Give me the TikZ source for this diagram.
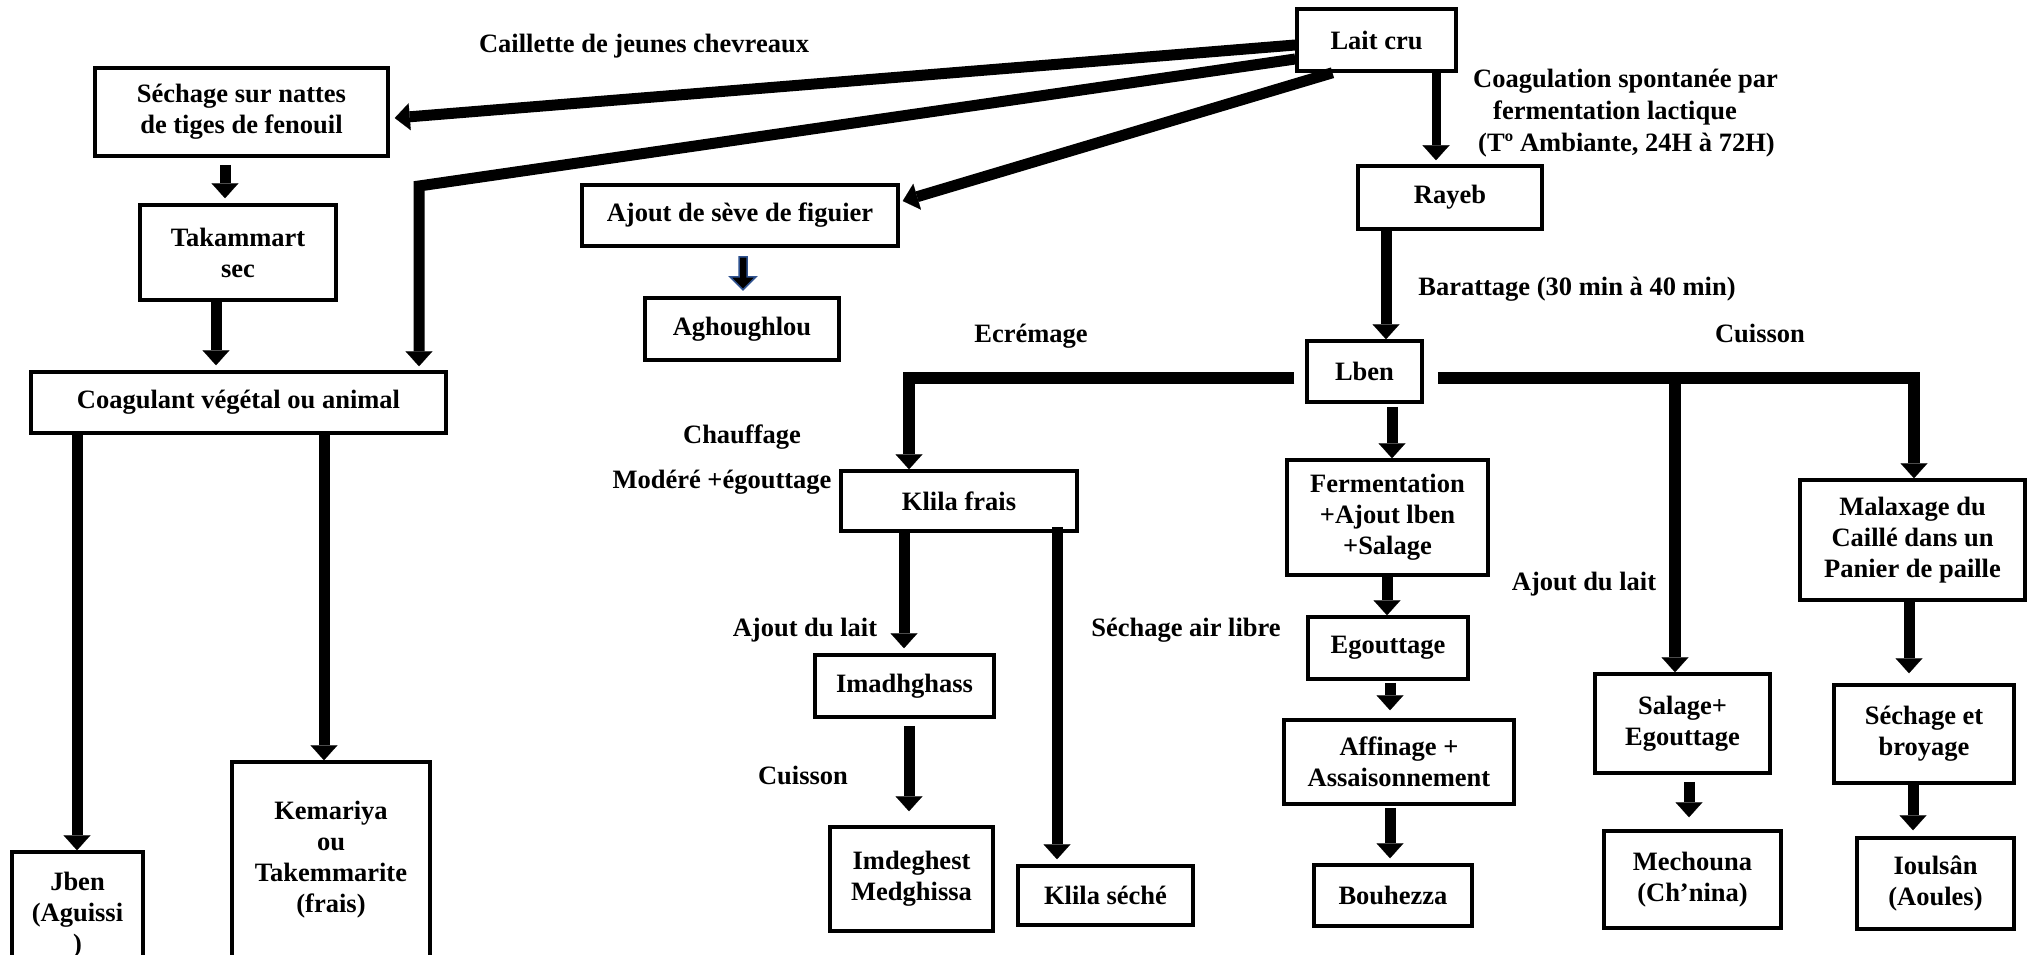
\documentclass[tikz,border=0pt]{standalone}
\usepackage{fontspec}
\setmainfont{Liberation Serif}
\usetikzlibrary{arrows.meta,calc}
\definecolor{agblue}{RGB}{47,82,143}
\newcommand\dfont{\fontsize{26.5}{31}\selectfont\bfseries}
\begin{document}
\begin{tikzpicture}[x=1pt,y=-1pt,
  box/.style={draw, line width=3.5pt, inner sep=0pt, align=center, font=\dfont},
  lab/.style={inner sep=0pt, font=\dfont, anchor=base},
  arr/.style={line width=11pt, line join=miter, -{Triangle[width=27pt,length=15pt,line width=0.1pt]}}]
\useasboundingbox (0,0) rectangle (2029,955);
\fill[white] (0,0) rectangle (2029,955);

% boxes
\node[box, minimum width=159pt, minimum height=62pt] (lait) at (1376.5,40) {Lait cru};
\node[box, minimum width=293pt, minimum height=88pt] (sechage) at (241.5,112) {Séchage sur nattes\\de tiges de fenouil};
\node[box, minimum width=196pt, minimum height=95pt] (takam) at (238,252.5) {Takammart\\sec};
\node[box, minimum width=415pt, minimum height=61pt] (coag) at (238.5,402.5) {Coagulant végétal ou animal};
\node[box, minimum width=131pt, minimum height=126pt] (jben) at (77.5,915) {Jben\\(Aguissi\\)};
\node[box, minimum width=198pt, minimum height=196pt] (kemar) at (331,860) {Kemariya\\ou\\Takemmarite\\(frais)};
\node[box, minimum width=316pt, minimum height=61pt] (seve) at (740,215.5) {Ajout de sève de figuier};
\node[box, minimum width=194pt, minimum height=62pt] (aghou) at (742,329) {Aghoughlou};
\node[box, minimum width=184pt, minimum height=63pt] (rayeb) at (1450,197.5) {Rayeb};
\node[box, minimum width=115pt, minimum height=61pt] (lben) at (1364.5,371.5) {Lben};
\node[box, minimum width=236pt, minimum height=60pt] (klilaf) at (959,501) {Klila frais};
\node[box, minimum width=179pt, minimum height=62pt] (imadh) at (904.5,686) {Imadhghass};
\node[box, minimum width=163pt, minimum height=104pt] (imdeg) at (911.5,879) {Imdeghest\\Medghissa};
\node[box, minimum width=175pt, minimum height=59pt] (klilas) at (1105.5,895.5) {Klila séché};
\node[box, minimum width=201pt, minimum height=115pt] (ferm) at (1387.5,517.5) {Fermentation\\+Ajout lben\\+Salage};
\node[box, minimum width=160pt, minimum height=62pt] (egout) at (1388,648) {Egouttage};
\node[box, minimum width=230pt, minimum height=84pt] (affin) at (1399,762) {Affinage +\\Assaisonnement};
\node[box, minimum width=158pt, minimum height=61pt] (bouh) at (1393,895.5) {Bouhezza};
\node[box, minimum width=175pt, minimum height=99pt] (salage) at (1682.5,723.5) {Salage+\\Egouttage};
\node[box, minimum width=177pt, minimum height=97pt] (mechou) at (1692.5,879.5) {Mechouna\\(Ch’nina)};
\node[box, minimum width=225pt, minimum height=120pt] (malax) at (1912.5,540) {Malaxage du\\Caillé dans un\\Panier de paille};
\node[box, minimum width=180pt, minimum height=98pt] (sechbr) at (1924,734) {Séchage et\\broyage};
\node[box, minimum width=157pt, minimum height=91pt] (ioul) at (1935.5,883.5) {Ioulsân\\(Aoules)};

% labels
\node[lab] (l1) at (644,53) {Caillette de jeunes chevreaux};
\node[lab, anchor=base west] (l2) at (1473,88) {Coagulation spontanée par};
\node[lab, anchor=base west] (l3) at (1493,120) {fermentation lactique};
\node[lab, anchor=base west] (l4) at (1478,152) {(Tº Ambiante, 24H à 72H)};
\node[lab] (l5) at (1577,295) {Barattage (30 min à 40 min)};
\node[lab] (l6) at (1031,342) {Ecrémage};
\node[lab] (l7) at (1760,342) {Cuisson};
\node[lab] (l8) at (742,443) {Chauffage};
\node[lab] (l9) at (722,488) {Modéré +égouttage};
\node[lab] (l10) at (805,636) {Ajout du lait};
\node[lab] (l11) at (803,784) {Cuisson};
\node[lab] (l12) at (1186,636) {Séchage air libre};
\node[lab] (l13) at (1584,590) {Ajout du lait};

% connectors from Lait cru
\draw[arr] ([yshift=-5pt]lait.west) -- ([xshift=5pt,yshift=-6pt]sechage.east);
\coordinate (b1) at (419,186);
\draw[arr, shorten >=4pt] ([yshift=-19pt]lait.west) -- (b1) -- (b1 |- coag.north);
\draw[arr] ([xshift=-44pt]lait.south) -- ([xshift=3pt,yshift=14.5pt]seve.east);
\coordinate (c1) at (1436,0);
\draw[arr, line width=9pt, shorten >=4pt] (lait.south -| c1) -- (rayeb.north -| c1);
\coordinate (c2) at (1386,0);
\draw[arr] (rayeb.south -| c2) -- (lben.north -| c2);

% Lben branches
\coordinate (hl) at (909,378);
\coordinate (hr) at (1914,378);
\coordinate (hm) at (1675,378);
\draw[arr, line width=12pt] ([xshift=-11pt,yshift=-6.5pt]lben.west) -- (hl) -- (hl |- klilaf.north);
\draw[arr, line width=12pt] ([xshift=14pt,yshift=-6.5pt]lben.east) -- (hr) -- (hr |- malax.north);
\draw[arr, line width=12pt] (hm) -- (hm |- salage.north);
\coordinate (c3) at (1392,0);
\draw[arr, shorten <=3pt] (lben.south -| c3) -- (ferm.north -| c3);

% central column
\coordinate (c4) at (1387,0);
\draw[arr] (ferm.south -| c4) -- (egout.north -| c4);
\coordinate (c5) at (1390,0);
\draw[arr, shorten <=2pt, shorten >=8pt] (egout.south -| c5) -- (affin.north -| c5);
\draw[arr, shorten <=2pt, shorten >=5pt] (affin.south -| c5) -- (bouh.north -| c5);

% Klila column
\coordinate (c6) at (904,0);
\draw[arr, shorten >=5pt] (klilaf.south -| c6) -- (imadh.north -| c6);
\coordinate (c7) at (909,0);
\draw[arr, shorten <=7pt, shorten >=14pt] (imadh.south -| c7) -- (imdeg.north -| c7);
\coordinate (c8) at (1057,0);
\draw[arr, shorten <=-6pt, shorten >=5pt] (klilaf.south -| c8) -- (klilas.north -| c8);

% right columns
\coordinate (c9) at (1689,0);
\draw[arr, shorten <=7pt, shorten >=12pt] (salage.south -| c9) -- (mechou.north -| c9);
\coordinate (c10) at (1909,0);
\draw[arr, shorten >=10pt] (malax.south -| c10) -- (sechbr.north -| c10);
\coordinate (c11) at (1913,0);
\draw[arr, shorten >=6pt] (sechbr.south -| c11) -- (ioul.north -| c11);

% left columns
\coordinate (c12) at (225,0);
\draw[arr, shorten <=7pt, shorten >=5pt] (sechage.south -| c12) -- (takam.north -| c12);
\coordinate (c13) at (216,0);
\draw[arr, shorten >=5pt] (takam.south -| c13) -- (coag.north -| c13);
\coordinate (c14) at (77,0);
\draw[arr] (coag.south -| c14) -- (jben.north -| c14);
\coordinate (c15) at (324,0);
\draw[arr] (coag.south -| c15) -- (kemar.north -| c15);

% blue block arrow seve -> aghou
\coordinate (agt) at ($(seve.south)+(3,9)$);
\draw[agblue, line width=1.5pt, fill=black, line join=miter]
  ($(agt)+(-4,0)$) -- ++(8,0) -- ++(0,20) -- ++(9,0) -- ++(-13,13) -- ++(-13,-13) -- ++(9,0) -- cycle;
\end{tikzpicture}
\end{document}
